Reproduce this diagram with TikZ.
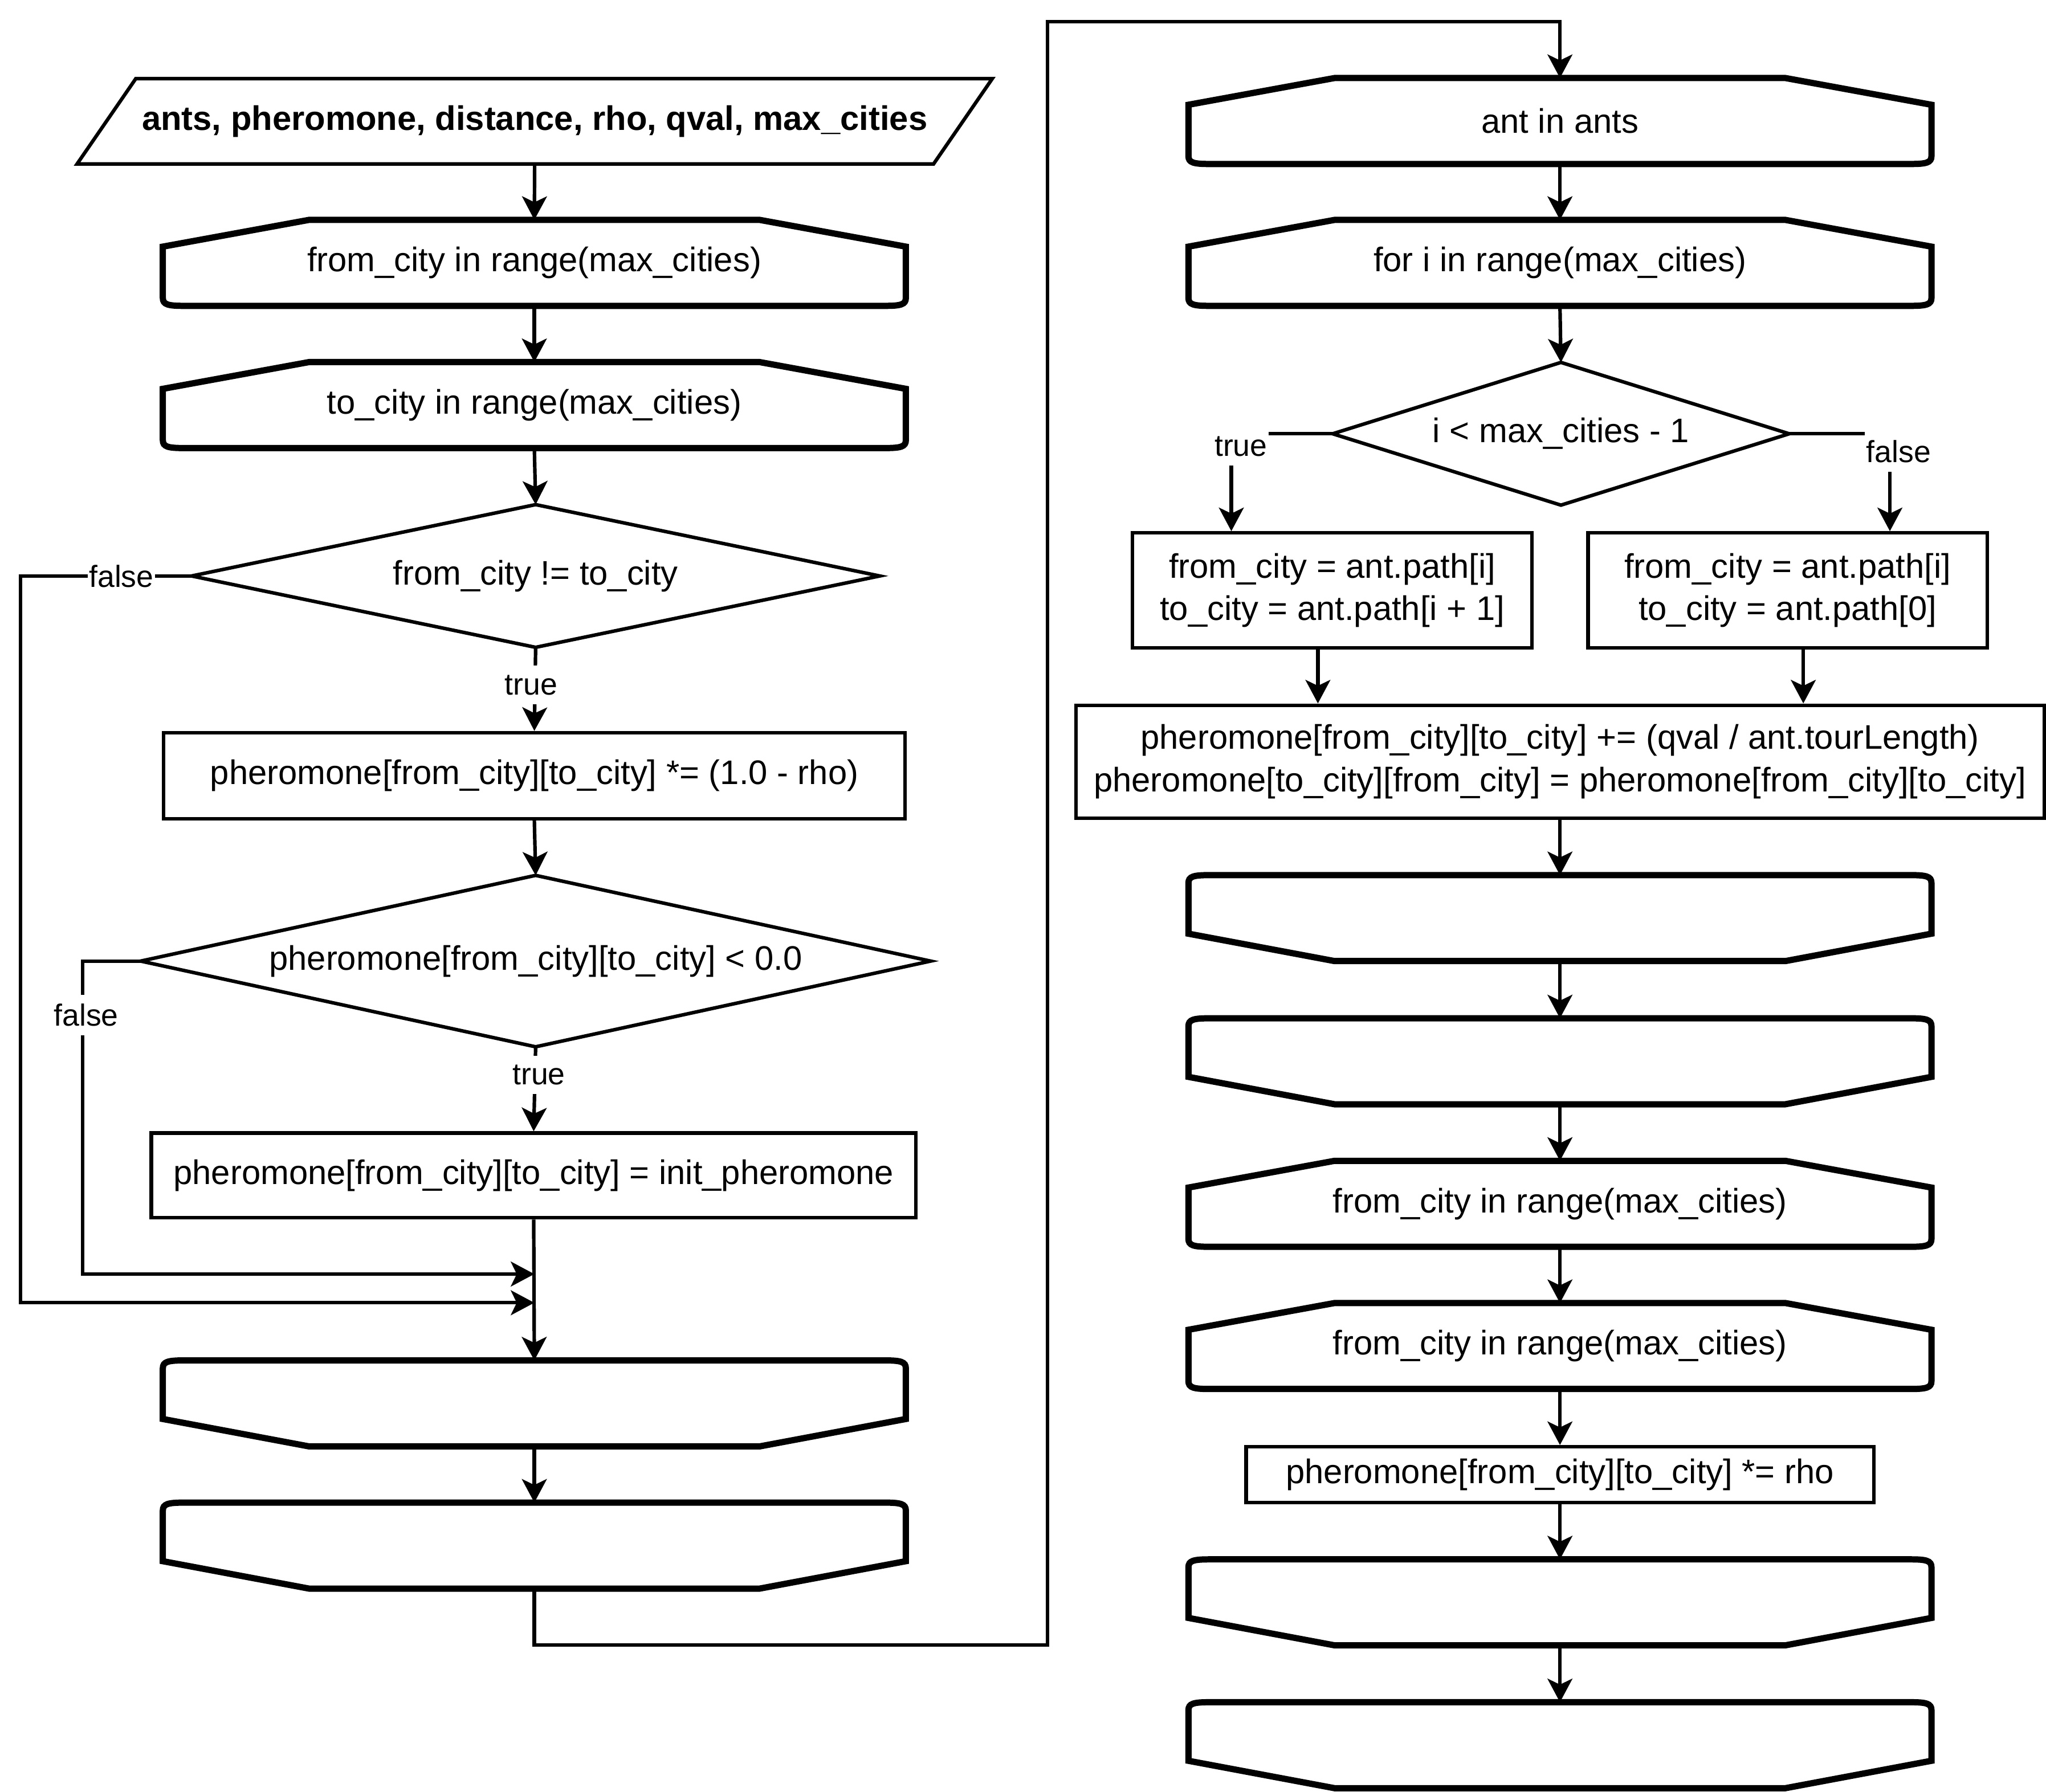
\documentclass[tikz,border=0pt]{standalone}
\usepackage{fontspec}
\setmainfont{Liberation Sans}
\usetikzlibrary{arrows.meta,calc}
\newcommand\LoopStart[1]{%
  \draw[loopline] ($(#1.north west)+(112,0)$) -- ($(#1.north east)+(-112,0)$)
    -- ($(#1.north east)+(0,20.5)$) -- ($(#1.south east)+(0,-6)$)
    .. controls ($(#1.south east)+(0,-1)$) and ($(#1.south east)+(-4,0)$) .. ($(#1.south east)+(-16,0)$)
    -- ($(#1.south west)+(16,0)$)
    .. controls ($(#1.south west)+(4,0)$) and ($(#1.south west)+(0,-1)$) .. ($(#1.south west)+(0,-6)$)
    -- ($(#1.north west)+(0,20.5)$) -- cycle;}
\newcommand\LoopEnd[1]{%
  \draw[loopline] ($(#1.south west)+(112,0)$) -- ($(#1.south east)+(-112,0)$)
    -- ($(#1.south east)+(0,-21)$) -- ($(#1.north east)+(0,6)$)
    .. controls ($(#1.north east)+(0,1)$) and ($(#1.north east)+(-4,0)$) .. ($(#1.north east)+(-16,0)$)
    -- ($(#1.north west)+(16,0)$)
    .. controls ($(#1.north west)+(4,0)$) and ($(#1.north west)+(0,1)$) .. ($(#1.north west)+(0,6)$)
    -- ($(#1.south west)+(0,-21)$) -- cycle;}
\newcommand\Diam[1]{\draw[ln] (#1.north) -- (#1.east) -- (#1.south) -- (#1.west) -- cycle;}
\begin{document}
\begin{tikzpicture}[x=1pt,y=-1pt,
  txt/.style={font=\fontsize{26.1}{32.5}\selectfont, align=center, inner sep=0pt},
  ln/.style={line width=2.7pt},
  loopline/.style={line width=4.8pt},
  procbox/.style={txt, draw, line width=2.7pt},
  loopbox/.style={txt, minimum width=569pt, minimum height=65.5pt},
  arr/.style={line width=2.7pt, -{Stealth[length=18pt,width=19pt,inset=4.5pt]}},
  lbl/.style={font=\fontsize{23.4}{28}\selectfont, fill=white, inner xsep=1pt, inner ysep=7pt}]
\useasboundingbox (0,0) rectangle (1568,1373.6);

% ---------- left column ----------
\node[txt, font=\fontsize{26.1}{32.5}\selectfont\bfseries, minimum width=656pt, minimum height=65pt] (in) at (409.75,93)
  {ants, pheromone, distance, rho, qval, max\_cities};
\draw[ln] ($(in.north west)+(22.5,0)$) -- ($(in.north east)+(22.5,0)$)
  -- ($(in.south east)+(-22.5,0)$) -- ($(in.south west)+(-22.5,0)$) -- cycle;

\node[loopbox] (L1) at (409.5,201.5) {from\_city in range(max\_cities)};
\node[loopbox] (L2) at (409.5,310.5) {to\_city in range(max\_cities)};
\node[txt, minimum width=527pt, minimum height=109pt] (D1) at (410.5,441.5) {from\_city != to\_city};
\node[procbox, minimum width=568pt, minimum height=66pt] (R1) at (409.5,594.6)
  {pheromone[from\_city][to\_city] *= (1.0 - rho)};
\node[txt, minimum width=605pt, minimum height=131pt] (D2) at (410.5,736.7)
  {pheromone[from\_city][to\_city] < 0.0};
\node[procbox, minimum width=586pt, minimum height=65pt] (R2) at (409,901)
  {pheromone[from\_city][to\_city] = init\_pheromone};
\node[loopbox] (E1) at (409.5,1075.75) {};
\node[loopbox] (E2) at (409.5,1184.75) {};

% ---------- right column ----------
\node[loopbox] (A) at (1195.5,92.75) {ant in ants};
\node[loopbox] (F) at (1195.5,201.5) {for i in range(max\_cities)};
\node[txt, minimum width=349.5pt, minimum height=109pt] (D3) at (1196.25,332.5) {i < max\_cities - 1};
\node[procbox, minimum width=306pt, minimum height=88pt] (RA) at (1021,452.5)
  {from\_city = ant.path[i]\\to\_city = ant.path[i + 1]};
\node[procbox, minimum width=306pt, minimum height=88pt] (RB) at (1370,452.5)
  {from\_city = ant.path[i]\\to\_city = ant.path[0]};
\node[procbox, minimum width=742pt, minimum height=86.5pt] (RC) at (1195.5,583.8)
  {pheromone[from\_city][to\_city] += (qval / ant.tourLength)\\pheromone[to\_city][from\_city] = pheromone[from\_city][to\_city]};
\node[loopbox] (E3) at (1195.5,703.75) {};
\node[loopbox] (E4) at (1195.5,813.5) {};
\node[loopbox] (S3) at (1195.5,922.75) {from\_city in range(max\_cities)};
\node[loopbox] (S4) at (1195.5,1031.75) {from\_city in range(max\_cities)};
\node[procbox, minimum width=481pt, minimum height=42.6pt] (RD) at (1195.5,1130.3)
  {pheromone[from\_city][to\_city] *= rho};
\node[loopbox] (E5) at (1195.5,1228.25) {};
\node[loopbox] (E6) at (1195.5,1337.75) {};

% ---------- shapes ----------
\LoopStart{L1}\LoopStart{L2}\LoopStart{A}\LoopStart{F}\LoopStart{S3}\LoopStart{S4}
\LoopEnd{E1}\LoopEnd{E2}\LoopEnd{E3}\LoopEnd{E4}\LoopEnd{E5}\LoopEnd{E6}
\Diam{D1}\Diam{D2}\Diam{D3}

% ---------- coordinates ----------
\coordinate (m1) at (409.5,976.6);
\coordinate (m2) at (409.5,998.6);
\coordinate (c1) at (802.9,1260.9);
\coordinate (c2) at (802.9,16.5);
\coordinate (ta) at ($(RA.north west)+(77,0)$);
\coordinate (tb) at ($(RB.north east)+(-76,0)$);
\coordinate (ra) at ($(RA.south)+(-11,0)$);
\coordinate (rb) at ($(RB.south)+(12,0)$);

% ---------- connectors ----------
\draw[arr] (in.south) -- (L1.north);
\draw[arr] (L1.south) -- (L2.north);
\draw[arr] (L2.south) -- (D1.north);
\draw[arr] (D1.south) -- (R1.north);
\draw[arr] (D1.west) -- ++(-131,0) |- (m2);
\draw[arr] (R1.south) -- (D2.north);
\draw[arr] (D2.south) -- (R2.north);
\draw[arr] (D2.west) -- ++(-44.5,0) |- (m1);
\draw[arr] (R2.south) -- (E1.north);
\draw[arr] (E1.south) -- (E2.north);
\draw[arr] (E2.south) |- (c1) -- (c2) -| (A.north);
\draw[arr] (A.south) -- (F.north);
\draw[arr] (F.south) -- (D3.north);
\draw[arr] (D3.west) -| (ta);
\draw[arr] (D3.east) -| (tb);
\draw[arr] (ra) -- (ra |- RC.north);
\draw[arr] (rb) -- (rb |- RC.north);
\draw[arr] (RC.south) -- (E3.north);
\draw[arr] (E3.south) -- (E4.north);
\draw[arr] (E4.south) -- (S3.north);
\draw[arr] (S3.south) -- (S4.north);
\draw[arr] (S4.south) -- (RD.north);
\draw[arr] (RD.south) -- (E5.north);
\draw[arr] (E5.south) -- (E6.north);

% ---------- labels ----------
\node[lbl] (l1) at (93,441.5) {false};
\node[lbl] (l2) at (407,525) {true};
\node[lbl] (l3) at (66,778) {false};
\node[lbl] (l4) at (413,824) {true};
\node[lbl] (l5) at (951,342) {true};
\node[lbl] (l6) at (1455,346) {false};
\end{tikzpicture}
\end{document}
